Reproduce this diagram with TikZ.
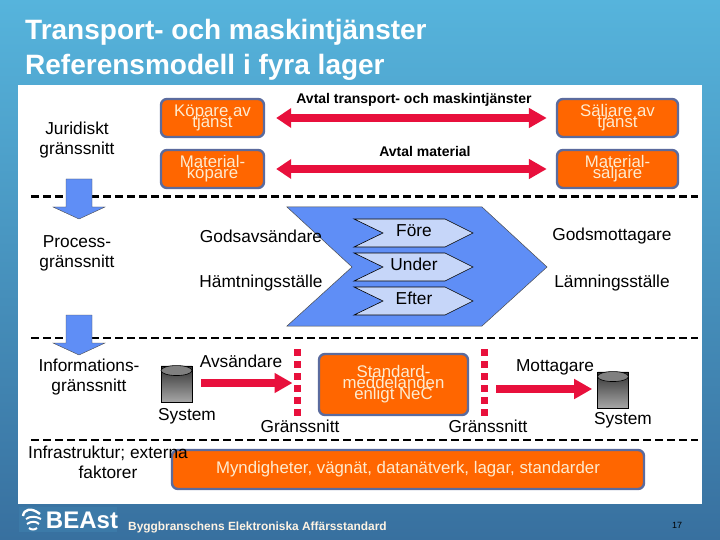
\documentclass[tikz,border=0pt]{standalone}
\usepackage{fontspec}
\setmainfont{Liberation Sans}
\usetikzlibrary{shapes.geometric,arrows.meta,calc}
\definecolor{skytop}{HTML}{56B4DC}
\definecolor{skylow}{HTML}{38709F}
\definecolor{boxfill}{HTML}{FF6600}
\definecolor{boxline}{HTML}{5B6B9E}
\definecolor{boxtext}{HTML}{FDEBD0}
\definecolor{flowblue}{HTML}{5F8EF6}
\definecolor{flowpale}{HTML}{C6D6F9}
\definecolor{redline}{HTML}{E8103C}
\newcommand{\partyfont}{\fontsize{16.8}{11}\selectfont\lineskiplimit=-100pt\relax}

\begin{document}
\begin{tikzpicture}[
  x=1pt, y=-1pt,
  party/.style={rectangle, draw=boxline, fill=boxfill, line width=2.4pt, rounded corners=6pt, align=center, inner sep=0pt, text=boxtext, font=\partyfont},
  lab/.style={align=center, inner sep=0pt, font=\fontsize{17.3}{20}\selectfont},
  deal/.style={inner sep=0pt, font=\fontsize{14}{16}\bfseries\selectfont},
  bigarrow/.style={-{Triangle[length=18pt,width=19pt]}, line width=7.5pt, redline},
  dealarrow/.style={{Triangle[length=15pt,width=19pt]}-{Triangle[length=18pt,width=19pt]}, line width=7.5pt, redline},
  sep/.style={line width=2.6pt, dash pattern=on 8pt off 4pt},
  edge/.style={line width=7pt, redline, dash pattern=on 7pt off 5pt},
  disk/.style={cylinder, shape border rotate=90, aspect=0.35, draw=black, line width=0.6pt, minimum width=31pt, minimum height=36pt, inner sep=0pt, top color=black!80, bottom color=black!35},
]
\useasboundingbox (0,0) rectangle (720,540);

% === Background ===
\shade[top color=skytop, middle color=skytop, bottom color=skylow] (0,0) rectangle (720,540);
\fill[white] (18,85) rectangle (702,504);

% === Title ===
\node[anchor=west, inner sep=0pt, align=left, text=white, font=\fontsize{28}{35}\bfseries\selectfont] (title) at (25,50) {Transport- och maskintjänster\\Referensmodell i fyra lager};

% === Layer separators ===
\draw[sep] (31,196.5) -- (698,196.5);
\draw[sep] (31,338) -- (698,338);
\draw[sep] (31,440) -- (698,440);

% === Layer names ===
\node[lab] (juridisk) at (77,140) {Juridiskt\\gränssnitt};
\node[lab] (process) at (77,253) {Process-\\gränssnitt};
\node[lab] (inform) at (89,377) {Informations-\\gränssnitt};

\foreach \ytop in {179,315} {
  \filldraw[fill=flowblue, draw=black!70, line width=0.4pt] (66,\ytop) -- (92,\ytop) -- (92,\ytop+28) -- (105,\ytop+28) -- (79,\ytop+40) -- (53,\ytop+28) -- (66,\ytop+28) -- cycle;
}

% === Legal layer ===
\node[party, minimum width=103pt, minimum height=38pt] (kopT) at (212.5,118) {Köpare av\\tjänst};
\node[party, minimum width=103pt, minimum height=38pt] (kopM) at (212.5,169) {Material-\\köpare};
\node[party, minimum width=121pt, minimum height=38pt] (salT) at (617.5,118) {Säljare av\\tjänst};
\node[party, minimum width=121pt, minimum height=38pt] (salM) at (617.5,169) {Material-\\säljare};
\draw[dealarrow, shorten <=11pt, shorten >=9pt] (kopT) -- (salT);
\draw[dealarrow, shorten <=11pt, shorten >=9pt] (kopM) -- (salM);
\node[deal] (avtalT) at (414,100) {Avtal transport- och maskintjänster};
\node[deal] (avtalM) at (425,151) {Avtal material};

% === Process layer ===
\filldraw[fill=flowblue, draw=black!70, line width=0.5pt] (287,207) -- (482,207) -- (547,267) -- (482,326) -- (287,326) -- (352,267) -- cycle;
\foreach \ymid in {233,267,301} {
  \filldraw[fill=flowpale, draw=black, line width=0.6pt] (354,\ymid-14) -- (445,\ymid-14) -- (473,\ymid) -- (445,\ymid+14) -- (354,\ymid+14) -- (383,\ymid) -- cycle;
}
\node[lab] (fore) at (414,230.5) {Före};
\node[lab] (under) at (414,264.5) {Under};
\node[lab] (efter) at (414,298.5) {Efter};
\node[lab] (godsA) at (261,236) {Godsavsändare};
\node[lab] (hamt) at (261,283) {Hämtningsställe};
\node[lab] (godsM) at (612,236) {Godsmottagare};
\node[lab] (lamn) at (612,283) {Lämningsställe};

% === Information layer ===
\node[disk] (sysA) at (176.5,384) {};
\node[disk] (sysM) at (613,390) {};
\filldraw[fill=black!50, draw=black, line width=0.6pt] ($(sysA.north)+(0,5)$) ellipse [x radius=15.5pt, y radius=5pt];
\filldraw[fill=black!50, draw=black, line width=0.6pt] ($(sysM.north)+(0,5)$) ellipse [x radius=15.5pt, y radius=5pt];
\node[party, minimum width=149pt, minimum height=61pt] (msg) at (393.5,384.5) {Standard-\\meddelanden\\enligt NeC};
\coordinate (gransA) at (297.5,383);
\coordinate (gransM) at (484,389);
\draw[edge] (297.5,349) -- (297.5,417);
\draw[edge] (484,349) -- (484,417);
\draw[bigarrow, shorten <=9pt, shorten >=5pt] (sysA.east |- gransA) -- (gransA);
\draw[bigarrow, shorten <=12pt, shorten >=5pt] (gransM) -- (sysM.west |- gransM);
\node[lab] (avs) at (241,361) {Avsändare};
\node[lab] (mott) at (555,367) {Mottagare};
\node[lab] (sysAtext) at (187,416) {System};
\node[lab] (sysMtext) at (623,420) {System};
\node[lab] (gransAtext) at (300,426) {Gränssnitt};
\node[lab] (gransMtext) at (488,426) {Gränssnitt};

% === Infrastructure layer ===
\node[party, minimum width=472pt, minimum height=39pt] (infra) at (408,469.5) {Myndigheter, vägnät, datanätverk, lagar, standarder};
\node[lab] (infratext) at (108,462.5) {Infrastruktur; externa\\faktorer};

% === Footer ===
\fill[skylow!85!skytop] (19,507) rectangle (117,532);
\node[text=white, inner sep=0pt, font=\fontsize{24}{24}\bfseries\selectfont] (beast) at (82,520) {BEAst};
\draw[white, line width=2.4pt] (23,516) .. controls (24,509) and (31,507) .. (40,514);
\draw[white, line width=2pt] (26,519) .. controls (30,516) and (36,516) .. (41,519);
\draw[white, line width=2pt] (27,524) .. controls (31,521) and (36,521) .. (39,524);
\draw[white, line width=2pt] (29,528) .. controls (31,530) and (35,530) .. (37,528);
\node[anchor=west, inner sep=0pt, text=boxtext!60!white, font=\fontsize{11.9}{14}\bfseries\selectfont] (foot) at (128,527) {Byggbranschens Elektroniska Affärsstandard};
\node[inner sep=0pt, text=black, font=\fontsize{9}{10}\selectfont] (sida) at (677,525) {17};

\end{tikzpicture}
\end{document}
